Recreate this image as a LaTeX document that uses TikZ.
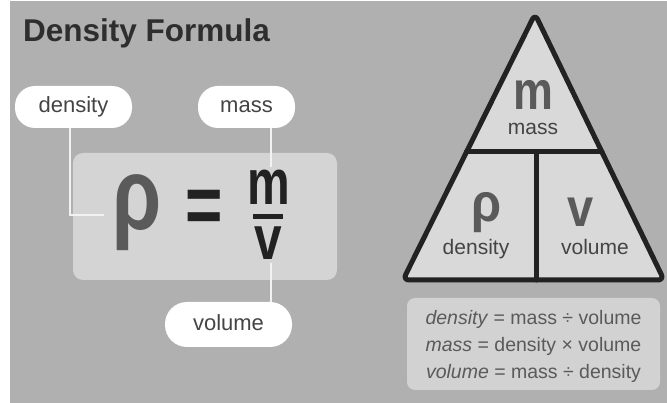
\documentclass[tikz,border=0pt]{standalone}
\usepackage{fontspec}
\setmainfont{Liberation Sans}
\definecolor{bg}{HTML}{B0B0B0}
\definecolor{boxc}{HTML}{D4D4D4}
\definecolor{trifill}{HTML}{D9D9D9}
\definecolor{notec}{HTML}{D2D2D2}
\definecolor{dark}{HTML}{222222}
\definecolor{titlec}{HTML}{2E2E2E}
\definecolor{labc}{HTML}{444444}
\definecolor{midc}{HTML}{5A5A5A}
\definecolor{cline}{HTML}{F2F2F2}
\begin{document}
\begin{tikzpicture}[x=1pt,y=-1pt,
  pill/.style={fill=white, rounded corners=20pt, minimum height=42pt, inner sep=0pt,
    font=\fontsize{22}{24}\selectfont, text=labc, text height=16pt, text depth=4pt},
  conn/.style={draw=cline, line width=2.5pt},
  tri/.style={draw=dark, line width=5pt, line join=round, line cap=round},
  big/.style={inner sep=0pt, anchor=base, font=\bfseries\fontsize{64}{64}\selectfont, text=dark},
  trisym/.style={inner sep=0pt, anchor=base, font=\bfseries\fontsize{54}{54}\selectfont, text=midc},
  trilab/.style={inner sep=0pt, anchor=base, font=\fontsize{21}{24}\selectfont, text=labc},
]
\useasboundingbox (0,0) rectangle (667,403);
\fill[white] (0,0) rectangle (667,403);
\fill[bg] (10,1) rectangle (667,403);

% title
\node[inner sep=0pt, anchor=base west, font=\bfseries\fontsize{31.5}{34}\selectfont, text=titlec] (title) at (23,42) {Density Formula};

% formula box
\node[fill=boxc, rounded corners=10pt, minimum width=264pt, minimum height=127pt, inner sep=0pt] (fbox) at (205,216.5) {};

% formula
\node[big, text=midc, font=\bfseries\fontsize{102}{102}\selectfont] (rho) at (137.5,230) {\scalebox{0.78}[1]{ρ}};
\node[big, anchor=center] (eq) at (204,212) {\scalebox{1}[1.3]{=}};
\node[big] (fm) at (268.5,205) {\scalebox{0.75}[1]{m}};
\node[big, font=\bfseries\fontsize{62}{62}\selectfont] (fv) at (268.5,260) {\scalebox{0.8}[1]{v}};
\draw[dark, line width=5pt] (253,217) -- (283,217);

% labels
\node[pill, minimum width=117pt] (ldens) at (73.5,107) {density};
\node[pill, minimum width=97pt] (lmass) at (246.5,107) {mass};
\node[pill, minimum width=127pt, minimum height=45pt, rounded corners=22pt] (lvol) at (228.5,324.5) {volume};

% connectors
\coordinate (rhoin) at (104,215);
\coordinate (mtop) at (271,167);
\coordinate (vbot) at (271,263);
\draw[conn] (ldens.south -| 70,0) |- (rhoin);
\draw[conn] (lmass.south -| mtop) -- (mtop);
\draw[conn] (vbot) -- (lvol.north -| vbot);

% triangle
\coordinate (ta) at (535,14);
\coordinate (tr) at (664,280);
\coordinate (tl) at (403,280);
\coordinate (hl) at (466.5,152);
\coordinate (hr) at (602,152);
\coordinate (vt) at (536,152);
\coordinate (vb) at (536,280);
\draw[tri, fill=trifill, rounded corners=6pt] (ta) -- (tr) -- (tl) -- cycle;
\draw[tri] (hl) -- (hr);
\draw[tri] (vt) -- (vb);

\node[trisym] (tm) at (533,110) {\scalebox{0.83}[1]{m}};
\node[trilab] (tmass) at (533,135) {mass};
\node[trisym] (trho) at (487,222) {\scalebox{0.9}[1]{ρ}};
\node[trilab] (tdens) at (476,255) {density};
\node[trisym] (tv) at (581,227) {\scalebox{0.87}[1]{v}};
\node[trilab] (tvol) at (595,255) {volume};

% note box
\node[fill=notec, rounded corners=8pt, minimum width=253pt, minimum height=92pt, inner sep=0pt] (note) at (533.5,344) {};
\node[inner sep=0pt, align=center, font=\fontsize{19.5}{27}\selectfont, text=midc] (notetext) at (533.5,346)
  {\textit{density} = mass ÷ volume\\ \textit{mass} = density × volume\\ \textit{volume} = mass ÷ density};
\end{tikzpicture}
\end{document}
